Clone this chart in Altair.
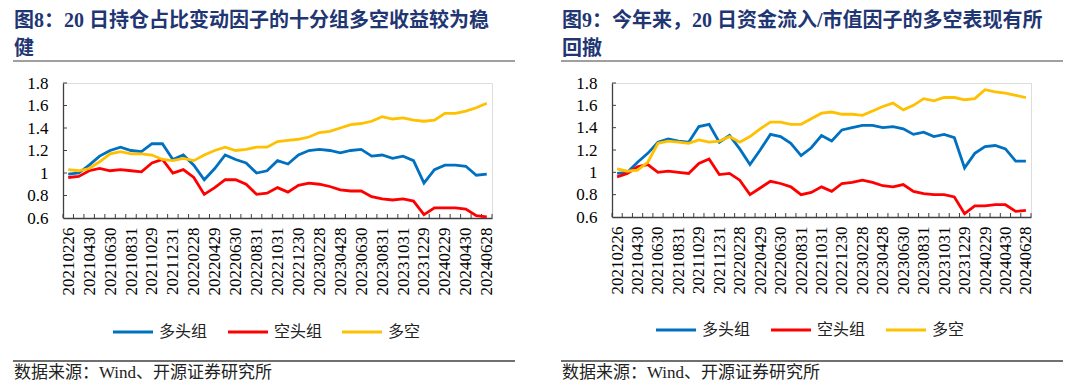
import altair as alt
import pandas as pd

dates = ['20210226', '20210331', '20210430', '20210531', '20210630', '20210730',
         '20210831', '20210930', '20211029', '20211130', '20211231', '20220128',
         '20220228', '20220331', '20220429', '20220531', '20220630', '20220729',
         '20220831', '20220930', '20221031', '20221130', '20221230', '20230131',
         '20230228', '20230331', '20230428', '20230531', '20230630', '20230731',
         '20230831', '20230928', '20231031', '20231130', '20231229', '20240131',
         '20240229', '20240329', '20240430', '20240531', '20240628']

series_names = ["多头组", "空头组", "多空"]
colors = ["#0070C0", "#FF0000", "#FFC000"]

# Figure 8
left_long = [0.99, 1.00, 1.07, 1.15, 1.20, 1.23, 1.20, 1.19, 1.26, 1.26, 1.12,
             1.16, 1.07, 0.94, 1.04, 1.16, 1.12, 1.09, 1.00, 1.02, 1.11, 1.08,
             1.16, 1.20, 1.21, 1.20, 1.18, 1.20, 1.21, 1.15, 1.16, 1.13, 1.15,
             1.11, 0.91, 1.03, 1.07, 1.07, 1.06, 0.98, 0.99]
left_short = [0.96, 0.97, 1.02, 1.04, 1.02, 1.03, 1.02, 1.01, 1.09, 1.12, 1.00,
              1.03, 0.96, 0.81, 0.87, 0.94, 0.94, 0.90, 0.81, 0.82, 0.87, 0.83,
              0.89, 0.91, 0.90, 0.88, 0.85, 0.84, 0.84, 0.79, 0.77, 0.76, 0.77,
              0.75, 0.63, 0.69, 0.69, 0.69, 0.68, 0.62, 0.61]
left_ls = [1.03, 1.02, 1.04, 1.10, 1.17, 1.19, 1.17, 1.17, 1.16, 1.12, 1.11,
           1.13, 1.11, 1.16, 1.20, 1.23, 1.20, 1.21, 1.23, 1.23, 1.28, 1.29,
           1.30, 1.32, 1.36, 1.37, 1.40, 1.43, 1.44, 1.46, 1.50, 1.48, 1.49,
           1.47, 1.46, 1.47, 1.53, 1.53, 1.55, 1.58, 1.62]

# Figure 9
right_long = [0.99, 1.00, 1.09, 1.17, 1.27, 1.30, 1.28, 1.27, 1.41, 1.43, 1.27,
              1.33, 1.21, 1.07, 1.20, 1.34, 1.32, 1.26, 1.15, 1.22, 1.33, 1.28,
              1.38, 1.40, 1.42, 1.42, 1.40, 1.41, 1.39, 1.34, 1.36, 1.32, 1.34,
              1.31, 1.04, 1.17, 1.23, 1.24, 1.21, 1.10, 1.10]
right_short = [0.96, 0.99, 1.05, 1.07, 1.00, 1.01, 1.00, 0.99, 1.08, 1.12, 0.98,
               0.99, 0.93, 0.80, 0.86, 0.92, 0.90, 0.87, 0.80, 0.82, 0.87, 0.83,
               0.90, 0.91, 0.93, 0.91, 0.88, 0.87, 0.89, 0.83, 0.81, 0.80, 0.80,
               0.78, 0.63, 0.70, 0.70, 0.71, 0.71, 0.65, 0.66]
right_ls = [1.03, 1.01, 1.02, 1.09, 1.26, 1.28, 1.27, 1.26, 1.29, 1.27, 1.28,
            1.32, 1.27, 1.32, 1.39, 1.45, 1.45, 1.43, 1.43, 1.48, 1.53, 1.54,
            1.52, 1.52, 1.51, 1.55, 1.59, 1.62, 1.56, 1.60, 1.66, 1.64, 1.67,
            1.67, 1.65, 1.66, 1.74, 1.72, 1.71, 1.69, 1.67]

y_ticks = [0.6, 0.8, 1, 1.2, 1.4, 1.6, 1.8]

left_title = ["图8：20 日持仓占比变动因子的十分组多空收益较为稳", "健"]
right_title = ["图9：今年来，20 日资金流入/市值因子的多空表现有所", "回撤"]
source_text = "数据来源：Wind、开源证券研究所"

SERIF = "Liberation Serif, Noto Sans CJK SC"
CJK = "Noto Sans CJK SC"
TITLE_COLOR = "#1F3673"
AXIS_COLOR = "#404040"


def one(row):
    return pd.DataFrame([row])


def panel(title_lines, vals, w, h, left_ext, rule_end, legend_x, legend_y):
    n = len(dates)
    xscale = alt.Scale(domain=[-0.5, n - 0.5], nice=False, zero=False)
    yscale = alt.Scale(domain=[0.6, 1.8], nice=False, zero=False)
    label_expr = "[" + ",".join("'%s'" % d for d in dates) + "][datum.value]"
    xaxis = alt.Axis(values=list(range(0, n, 2)), labelExpr=label_expr,
                     labelAngle=270, ticks=False, grid=False, title=None,
                     labelFont="Liberation Serif", labelFontSize=17,
                     labelColor="black", labelPadding=9, domainColor=AXIS_COLOR,
                     domainWidth=1.3, labelOverlap=False)
    yaxis = alt.Axis(values=y_ticks,
                     labelExpr="datum.value == 1 ? '1' : format(datum.value, '.1f')",
                     ticks=False, grid=False, title=None,
                     labelFont="Liberation Serif", labelFontSize=17,
                     labelColor="black", labelPadding=15, domainColor=AXIS_COLOR,
                     domainWidth=1.3)

    layers = []
    # inward ticks
    bdf = pd.DataFrame({"b": [i - 0.5 for i in range(n + 1)]})
    layers.append(alt.Chart(bdf).mark_rule(color=AXIS_COLOR, strokeWidth=1).encode(
        x=alt.X("b:Q", scale=xscale, axis=xaxis),
        y=alt.value(h - 4), y2=alt.value(h)))
    ydf = pd.DataFrame({"v": y_ticks[1:]})
    layers.append(alt.Chart(ydf).mark_rule(color=AXIS_COLOR, strokeWidth=1).encode(
        y=alt.Y("v:Q", scale=yscale, axis=yaxis),
        x=alt.value(0), x2=alt.value(4)))

    for name, col, vs in zip(series_names, colors, vals):
        df = pd.DataFrame({"idx": list(range(len(vs))), "value": vs})
        layers.append(alt.Chart(df).mark_line(color=col, strokeWidth=2.8).encode(
            x=alt.X("idx:Q", scale=xscale, axis=xaxis),
            y=alt.Y("value:Q", scale=yscale, axis=yaxis)))

    # title
    for k, line in enumerate(title_lines):
        layers.append(alt.Chart(one({"t": line})).mark_text(
            font=SERIF, fontSize=20, fontWeight="bold", color=TITLE_COLOR,
            align="left", baseline="middle").encode(
            text="t:N", x=alt.value(-left_ext + 1), y=alt.value(-62 + 28 * k)))
    # title rule
    layers.append(alt.Chart(one({"a": 0})).mark_rule(color=AXIS_COLOR, strokeWidth=1).encode(
        x=alt.value(-left_ext), x2=alt.value(rule_end), y=alt.value(-22)))

    # legend
    for k, (name, col) in enumerate(zip(series_names, colors)):
        lx = legend_x[k]
        layers.append(alt.Chart(one({"a": 0})).mark_rule(color=col, strokeWidth=3).encode(
            x=alt.value(lx), x2=alt.value(lx + 40), y=alt.value(legend_y)))
        layers.append(alt.Chart(one({"t": name})).mark_text(
            font=CJK, fontSize=16, color="#222222", align="left",
            baseline="middle").encode(
            text="t:N", x=alt.value(lx + 46), y=alt.value(legend_y)))

    # source
    layers.append(alt.Chart(one({"a": 0})).mark_rule(color=AXIS_COLOR, strokeWidth=1.5).encode(
        x=alt.value(-left_ext), x2=alt.value(rule_end), y=alt.value(278)))
    layers.append(alt.Chart(one({"t": source_text})).mark_text(
        font=SERIF, fontSize=17, color="#222222", align="left",
        baseline="middle").encode(
        text="t:N", x=alt.value(-left_ext + 1), y=alt.value(290)))

    return alt.layer(*layers).properties(width=w, height=h)


left = panel(left_title, [left_long, left_short, left_ls], 429, 135, 50, 452,
             [50, 165, 279], 249)
right = panel(right_title, [right_long, right_short, right_ls], 419, 134, 51, 451,
              [44, 159, 274], 247)

chart = alt.hconcat(left, right, spacing=42).properties(
    padding={"left": 3, "top": 2, "right": 0, "bottom": 0}
).configure_view(stroke=None).configure(background="white")

chart.save("out.html", embed_options={"renderer": "svg", "actions": False})
